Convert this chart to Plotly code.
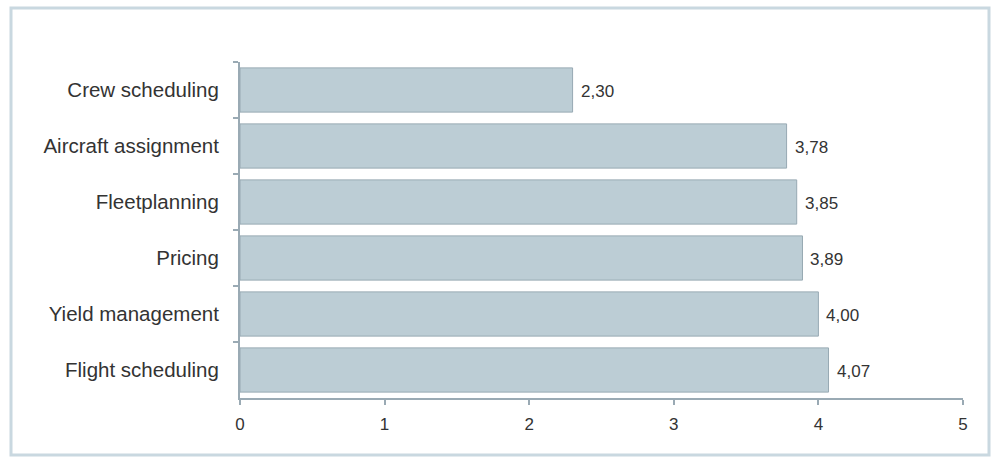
import plotly.graph_objects as go

# Survey scores per planning area (top to bottom as listed)
categories = ["Crew scheduling", "Aircraft assignment", "Fleetplanning",
              "Pricing", "Yield management", "Flight scheduling"]
scores = [2.30, 3.78, 3.85, 3.89, 4.00, 4.07]
x_ticks = [0, 1, 2, 3, 4, 5]

W, H = 999, 457
M_L, M_R, M_T, M_B = 240, 36, 62, 59
plot_w = W - M_L - M_R
plot_h = H - M_T - M_B

bar_fill = "#bccdd5"
bar_edge = "#97a9b3"
axis_col = "#9aaab4"
text_col = "#333333"
frame_col = "#c9d8e0"
font_family = "Liberation Sans, Arial, Helvetica, sans-serif"

fig = go.Figure(
    go.Bar(
        x=scores,
        y=categories,
        orientation="h",
        marker=dict(color=bar_fill, line=dict(color=bar_edge, width=1)),
        hoverinfo="skip",
    )
)

# value labels just right of each bar end, with a comma decimal mark
for cat, val in zip(categories, scores):
    fig.add_annotation(
        x=val, y=cat, xref="x", yref="y",
        text=f"{val:.2f}".replace(".", ","),
        showarrow=False, xanchor="left", yanchor="middle",
        xshift=6, yshift=-1,
        font=dict(size=17, color=text_col, family=font_family),
    )

# light outer frame around the whole chart
px = lambda v: (v - M_L) / plot_w
py = lambda v: (H - M_B - v) / plot_h
fig.add_shape(
    type="rect", xref="paper", yref="paper",
    x0=px(11), x1=px(989), y0=py(455), y1=py(8),
    line=dict(color=frame_col, width=3), fillcolor="rgba(0,0,0,0)",
    layer="below",
)

fig.update_layout(
    width=W, height=H,
    margin=dict(l=M_L, r=M_R, t=M_T, b=M_B, pad=0),
    paper_bgcolor="white", plot_bgcolor="white",
    bargap=0.21,
    showlegend=False,
    font=dict(family=font_family, color=text_col),
    xaxis=dict(
        range=[0, 5], tickvals=x_ticks, ticktext=[str(v) for v in x_ticks],
        showgrid=False, zeroline=False,
        showline=True, linecolor=axis_col, linewidth=2,
        ticks="outside", ticklen=5, tickwidth=2, tickcolor=axis_col,
        tickfont=dict(size=17, color=text_col),
        ticklabelstandoff=5,
        fixedrange=True,
    ),
    yaxis=dict(
        categoryorder="array", categoryarray=categories,
        autorange="reversed",
        showgrid=False, zeroline=False,
        showline=True, linecolor=axis_col, linewidth=2,
        ticks="outside", ticklen=5, tickwidth=2, tickcolor=axis_col,
        tickson="boundaries",
        tickfont=dict(size=20.5, color=text_col),
        ticklabelstandoff=15,
        fixedrange=True,
    ),
)

fig.write_html("out.html")
